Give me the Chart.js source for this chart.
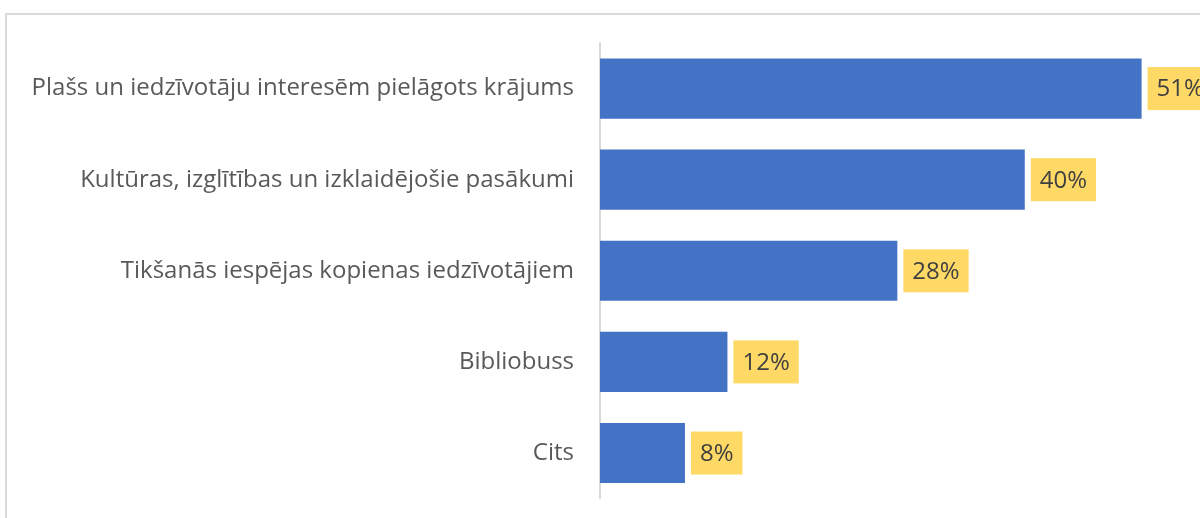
<!DOCTYPE html>
<html lang="lv">
<head>
    <meta charset="UTF-8">
    <title>Bibliotēkas pakalpojumi</title>
    <script src="https://cdn.jsdelivr.net/npm/chart.js"></script>
    <style>
        html, body { margin: 0; padding: 0; background: #fff; overflow: hidden; }
        .frame {
            position: absolute; left: 5px; top: 13px; right: -10px; bottom: -10px;
            border-left: 2px solid #d9d9d9; border-top: 2px solid #d9d9d9;
        }
        #chart { position: absolute; left: 0; top: 0; }
    </style>
</head>
<body>
    <div class="frame"></div>
    <canvas id="chart" width="1200" height="531"></canvas>
<script>
const categories = [
    "Plašs un iedzīvotāju interesēm pielāgots krājums",
    "Kultūras, izglītības un izklaidējošie pasākumi",
    "Tikšanās iespējas kopienas iedzīvotājiem",
    "Bibliobuss",
    "Cits"
];
const shares = [51, 40, 28, 12, 8];

const FONT = "'Open Sans', Lato, sans-serif";

// yellow value boxes to the right of each bar
const valueBoxes = {
    id: 'valueBoxes',
    afterDatasetsDraw(chart) {
        const ctx = chart.ctx;
        const meta = chart.getDatasetMeta(0);
        ctx.save();
        ctx.font = "24px " + FONT;
        ctx.textBaseline = 'middle';
        ctx.textAlign = 'center';
        meta.data.forEach((bar, i) => {
            const txt = shares[i] + '%';
            const w = ctx.measureText(txt).width + 18;
            const h = 43;
            const x = bar.x + 6;
            const y = bar.y - h / 2;
            ctx.fillStyle = '#FFD966';
            ctx.fillRect(x, y, w, h);
            ctx.fillStyle = '#404040';
            ctx.fillText(txt, x + w / 2, bar.y + 1);
        });
        ctx.restore();
    }
};

new Chart(document.getElementById('chart'), {
    type: 'bar',
    data: {
        labels: categories,
        datasets: [{
            data: shares,
            backgroundColor: '#4472C4',
            borderWidth: 0,
            categoryPercentage: 1,
            barPercentage: 0.66
        }]
    },
    options: {
        indexAxis: 'y',
        responsive: false,
        animation: false,
        layout: { padding: { left: 0, right: 0, top: 43, bottom: 2 } },
        plugins: { legend: { display: false }, tooltip: { enabled: false } },
        scales: {
            x: { display: false, min: 0, max: 56.5 },
            y: {
                grid: { display: false },
                border: { display: true, color: '#d9d9d9', width: 2 },
                ticks: {
                    color: '#595959',
                    font: { size: 24, family: FONT },
                    padding: 18
                },
                afterFit(scale) { scale.width = 600; }
            }
        }
    },
    plugins: [valueBoxes]
});
</script>
</body>
</html>
